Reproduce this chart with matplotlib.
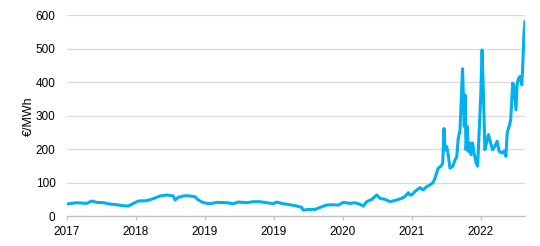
import datetime as dt
import matplotlib
matplotlib.use("Agg")
import matplotlib.pyplot as plt
import matplotlib.dates as mdates

# ---- data ----
start_date = "2017-08-26"
day_offset = [0, 40, 80, 100, 120, 146, 173, 199, 226, 246, 266, 286, 319, 345, 372, 399, 425, 432, 445, 465,
              478, 511, 525, 545, 571, 598, 638, 664, 684, 718, 744, 770, 797, 824, 837, 863, 890, 917, 937,
              943, 963, 990, 1010, 1036, 1063, 1083, 1103, 1129, 1149, 1169, 1182, 1196, 1216, 1236, 1249, 1269,
              1289, 1315, 1335, 1348, 1362, 1368,
              1375, 1388, 1408, 1421, 1435, 1448, 1461, 1468, 1481, 1491, 1499, 1504, 1509, 1515, 1521, 1528,
              1539, 1548, 1555, 1561, 1568, 1574, 1578,
              1585, 1588, 1592, 1597, 1601, 1608, 1612, 1618, 1624, 1632, 1638, 1643, 1650, 1656, 1662, 1667,
              1674, 1681, 1690, 1698, 1707, 1716, 1724, 1734, 1743, 1751, 1756, 1764, 1770, 1778, 1783, 1791,
              1796, 1802, 1807, 1814, 1818, 1823, 1827]
price = [37, 41, 39, 46, 42, 41, 37, 35, 32, 31, 39, 46, 47, 53, 61, 64, 61, 49, 57, 61,
         62, 59, 49, 41, 38, 42, 41, 38, 43, 41, 44, 44, 41, 38, 43, 38, 35, 31, 27,
         19, 21, 21, 27, 34, 35, 34, 42, 39, 41, 36, 31, 44, 51, 64, 54, 51,
         44, 49, 54, 59, 71, 64,
         64, 74, 86, 79, 89, 94, 101, 114, 144, 149, 158, 262, 198, 208, 183, 144,
         149, 168, 178, 233, 257, 366, 440,
         268, 362, 199, 268, 194, 219, 184, 219, 189, 159, 150, 229, 348, 496, 348, 199,
         219, 244, 219, 199, 209, 224, 194, 189, 194, 179, 249, 268, 288, 397, 387, 318,
         397, 412, 417, 392, 447, 546, 580]
tick_step_days = 275
n_ticks = 7
y_ticks = [0, 100, 200, 300, 400, 500, 600]
y_label = "€/MWh"

# ---- plot ----
plt.rcParams["font.family"] = ["Liberation Sans", "DejaVu Sans"]
t0 = dt.datetime.strptime(start_date, "%Y-%m-%d")
dates = [t0 + dt.timedelta(days=d) for d in day_offset]
ticks = [t0 + dt.timedelta(days=tick_step_days * k) for k in range(n_ticks)]

fig = plt.figure(figsize=(5.4, 2.46), dpi=100)
ax = fig.add_axes([0.1235, 0.12, 0.9722 - 0.1235, 0.939 - 0.12])
ax.plot(dates, price, color="#00B0F0", lw=2.2, solid_joinstyle="round", zorder=3)

ax.set_xlim(dates[0], dates[-1])
ax.set_ylim(0, 600)
ax.set_yticks(y_ticks)
ax.set_xticks(ticks)
ax.xaxis.set_major_formatter(mdates.DateFormatter("%Y"))
ax.grid(axis="y", color="#d9d9d9", lw=0.9, zorder=0)
for s in ["top", "right", "left"]:
    ax.spines[s].set_visible(False)
ax.spines["bottom"].set_color("#bfbfbf")
ax.spines["bottom"].set_linewidth(0.9)
ax.tick_params(axis="y", length=0, pad=8, labelsize=8.5, colors="#000000")
ax.tick_params(axis="x", length=3, width=0.9, color="#bfbfbf", pad=3.5, labelsize=8.5)
ax.set_ylabel(y_label, fontsize=9, labelpad=0.5)

fig.savefig("out.png", dpi=100)
